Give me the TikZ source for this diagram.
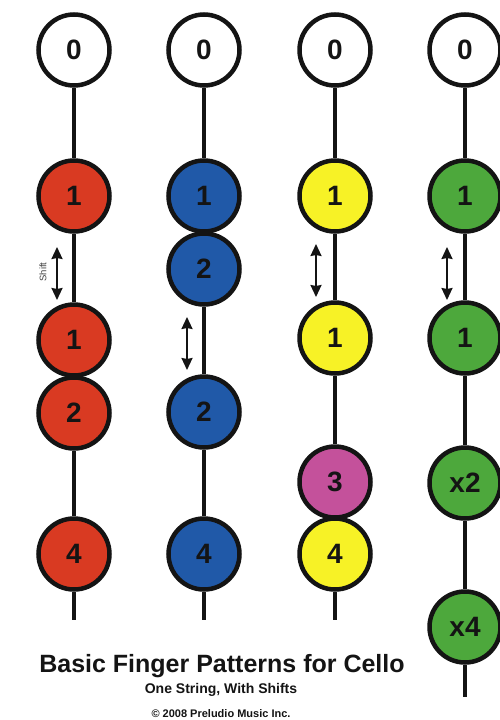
\documentclass[tikz,border=0pt]{standalone}
\usepackage{fontspec}
\setmainfont{Liberation Sans}
\usetikzlibrary{arrows.meta}
\definecolor{cred}{HTML}{D93A22}
\definecolor{cblue}{HTML}{2059A8}
\definecolor{cyellow}{HTML}{F7F226}
\definecolor{cgreen}{HTML}{4DA83C}
\definecolor{cmag}{HTML}{C4519B}
\definecolor{ink}{HTML}{141414}
\tikzset{
  fing/.style={circle, draw=ink, line width=4.5pt, minimum size=71pt, inner sep=0pt,
    font=\fontsize{28}{28}\selectfont\bfseries, text=ink},
  open/.style={fing, fill=white},
  red/.style={fing, fill=cred},
  blue/.style={fing, fill=cblue},
  yel/.style={fing, fill=cyellow},
  grn/.style={fing, fill=cgreen},
  mag/.style={fing, fill=cmag},
  strg/.style={draw=ink, line width=4.5pt},
  shiftarrow/.style={draw=ink, line width=2pt, {Stealth[length=12pt,width=11pt,inset=1pt]}-{Stealth[length=12pt,width=11pt,inset=1pt]}}
}
\begin{document}
\begin{tikzpicture}[x=1pt,y=-1pt]
\useasboundingbox[fill=white] (0,0) rectangle (500,720);
% column 1 (red)
\node[open] (a0) at (74,50) {0};
\node[red] (a1) at (74,196) {1};
\node[red] (a2) at (74,340) {1};
\node[red] (a3) at (74,413) {2};
\node[red] (a4) at (74,554) {4};
\coordinate (aend) at (74,620);
% column 2 (blue)
\node[open] (b0) at (204,50) {0};
\node[blue] (b1) at (204,196) {1};
\node[blue] (b2) at (204,269) {2};
\node[blue] (b3) at (204,412) {2};
\node[blue] (b4) at (204,554) {4};
\coordinate (bend) at (204,620);
% column 3 (yellow)
\node[open] (c0) at (335,50) {0};
\node[yel] (c1) at (335,196) {1};
\node[yel] (c2) at (335,338) {1};
\node[mag] (c3) at (335,482) {3};
\node[yel] (c4) at (335,554) {4};
\coordinate (cend) at (335,620);
% column 4 (green)
\node[open] (d0) at (465,50) {0};
\node[grn] (d1) at (465,196) {1};
\node[grn] (d2) at (465,338) {1};
\node[grn] (d3) at (465,483) {x2};
\node[grn] (d4) at (465,627) {x4};
\coordinate (dend) at (465,697);
% strings
\draw[strg] (a0.south) -- (a1.north) (a1.south) -- (a2.north) (a3.south) -- (a4.north) (a4.south) -- (aend);
\draw[strg] (b0.south) -- (b1.north) (b2.south) -- (b3.north) (b3.south) -- (b4.north) (b4.south) -- (bend);
\draw[strg] (c0.south) -- (c1.north) (c1.south) -- (c2.north) (c2.south) -- (c3.north) (c4.south) -- (cend);
\draw[strg] (d0.south) -- (d1.north) (d1.south) -- (d2.north) (d2.south) -- (d3.north) (d3.south) -- (d4.north) (d4.south) -- (dend);
% shift arrows
\coordinate (sa1) at (57,247); \coordinate (sa2) at (57,300);
\coordinate (sb1) at (187,317); \coordinate (sb2) at (187,370);
\coordinate (sc1) at (316,244); \coordinate (sc2) at (316,297);
\coordinate (sd1) at (447,247); \coordinate (sd2) at (447,300);
\draw[shiftarrow] (sa1) -- (sa2);
\draw[shiftarrow] (sb1) -- (sb2);
\draw[shiftarrow] (sc1) -- (sc2);
\draw[shiftarrow] (sd1) -- (sd2);
\node[rotate=90, font=\fontsize{9.5}{9.5}\selectfont, text=ink!80] (shiftlbl) at (43,272) {Shift};
% titles
\node[font=\fontsize{25}{25}\selectfont\bfseries, text=ink] (title) at (222,666) {Basic Finger Patterns for Cello};
\node[font=\fontsize{14}{14}\selectfont\bfseries, text=ink] (sub) at (221,690) {One String, With Shifts};
\node[font=\fontsize{11}{11}\selectfont\bfseries, text=ink] (copy) at (221,714) {© 2008 Preludio Music Inc.};
\end{tikzpicture}
\end{document}
